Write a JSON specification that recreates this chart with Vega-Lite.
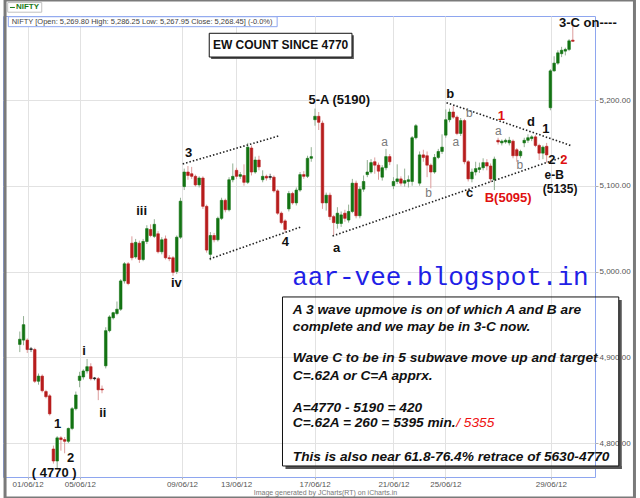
{
  "$schema": "https://vega.github.io/schema/vega-lite/v6.json",
  "width": 592,
  "height": 461,
  "autosize": {"type": "none"},
  "padding": {"left": 3, "top": 16, "right": 45, "bottom": 21},
  "background": "#ffffff",
  "config": {
    "view": {"stroke": "#8ea6ef", "strokeWidth": 1},
    "font": "Liberation Sans",
    "axis": {"labelFont": "Liberation Sans", "labelFontSize": 8, "labelColor": "#555555", "tickColor": "#b0b0b0", "domain": false, "gridColor": "#e2e2e2", "gridWidth": 1, "title": null}
  },
  "datasets": {
    "candles": [
      {"i":0,"o":4915,"h":4930,"l":4906,"c":4921},{"i":1,"o":4920,"h":4948,"l":4914,"c":4938},{"i":2,"o":4920,"h":4922,"l":4905,"c":4909},{"i":3,"o":4909.9,"h":4912,"l":4906,"c":4909},{"i":4,"o":4909,"h":4911,"l":4870,"c":4872},
      {"i":5,"o":4872,"h":4881,"l":4868,"c":4878},{"i":6,"o":4878,"h":4880,"l":4859,"c":4861},{"i":7,"o":4860,"h":4862,"l":4852,"c":4854},{"i":8,"o":4855,"h":4857,"l":4832,"c":4834},{"i":9,"o":4793,"h":4797,"l":4776,"c":4779},
      {"i":10,"o":4779,"h":4808,"l":4770,"c":4806},{"i":11,"o":4806,"h":4808,"l":4791,"c":4804},{"i":12,"o":4804,"h":4807,"l":4788,"c":4802},{"i":13,"o":4802,"h":4818,"l":4800,"c":4817},{"i":14,"o":4817,"h":4842,"l":4815,"c":4840},
      {"i":15,"o":4840,"h":4860,"l":4838,"c":4856},{"i":16,"o":4873,"h":4883,"l":4865,"c":4878},{"i":17,"o":4877,"h":4886,"l":4874,"c":4884},{"i":18,"o":4884,"h":4898,"l":4881,"c":4889},{"i":19,"o":4889,"h":4893,"l":4873,"c":4875},
      {"i":20,"o":4875.9,"h":4877,"l":4873,"c":4875},{"i":21,"o":4875,"h":4877,"l":4850,"c":4862},{"i":22,"o":4863,"h":4867,"l":4858,"c":4862},{"i":23,"o":4890,"h":4935,"l":4887,"c":4931},{"i":24,"o":4931,"h":4949,"l":4929,"c":4947},
      {"i":25,"o":4946,"h":4953,"l":4944,"c":4952},{"i":26,"o":4951,"h":4965,"l":4949,"c":4956},{"i":27,"o":4956,"h":4991,"l":4954,"c":4989},{"i":28,"o":4989,"h":5011,"l":4986,"c":5009},{"i":29,"o":5009,"h":5011,"l":4984,"c":4986},
      {"i":30,"o":5033,"h":5041,"l":5013,"c":5016},{"i":31,"o":5017,"h":5038,"l":5015,"c":5034},{"i":32,"o":5033,"h":5036,"l":5010,"c":5014},{"i":33,"o":5014,"h":5038,"l":5012,"c":5035},{"i":34,"o":5035,"h":5054,"l":5032,"c":5050},
      {"i":35,"o":5049,"h":5055,"l":5040,"c":5042},{"i":36,"o":5041,"h":5061,"l":5039,"c":5055},{"i":37,"o":5044,"h":5047,"l":5021,"c":5023},{"i":38,"o":5023,"h":5040,"l":5020,"c":5037},{"i":39,"o":5038,"h":5042,"l":5014,"c":5016},
      {"i":40,"o":5016,"h":5019,"l":5012,"c":5015},{"i":41,"o":5016,"h":5018,"l":4995,"c":4999},{"i":42,"o":5000,"h":5042,"l":4997,"c":5040},{"i":43,"o":5040,"h":5086,"l":5038,"c":5082},{"i":44,"o":5099,"h":5120,"l":5095,"c":5116},
      {"i":45,"o":5116,"h":5123,"l":5107,"c":5112},{"i":46,"o":5114,"h":5122,"l":5108,"c":5111},{"i":47,"o":5111,"h":5113,"l":5099,"c":5101},{"i":48,"o":5101,"h":5111,"l":5098,"c":5109},{"i":49,"o":5109,"h":5111,"l":5073,"c":5076},
      {"i":50,"o":5076,"h":5078,"l":5022,"c":5025},{"i":51,"o":5020,"h":5046,"l":5013,"c":5042},{"i":52,"o":5042,"h":5045,"l":5034,"c":5037},{"i":53,"o":5037,"h":5064,"l":5035,"c":5062},{"i":54,"o":5062,"h":5086,"l":5060,"c":5083},
      {"i":55,"o":5083,"h":5085,"l":5069,"c":5072},{"i":56,"o":5072,"h":5110,"l":5070,"c":5107},{"i":57,"o":5107,"h":5126,"l":5104,"c":5111},{"i":58,"o":5118,"h":5121,"l":5108,"c":5111},{"i":59,"o":5111,"h":5116,"l":5108,"c":5113},
      {"i":60,"o":5112,"h":5125,"l":5100,"c":5104},{"i":61,"o":5104,"h":5150,"l":5102,"c":5145},{"i":62,"o":5144,"h":5147,"l":5112,"c":5116},{"i":63,"o":5116,"h":5134,"l":5114,"c":5130},{"i":64,"o":5130,"h":5135,"l":5118,"c":5122},
      {"i":65,"o":5107,"h":5118,"l":5104,"c":5111},{"i":66,"o":5111,"h":5113,"l":5106,"c":5109},{"i":67,"o":5110.7,"h":5114,"l":5107,"c":5109.8},{"i":68,"o":5110,"h":5112,"l":5092,"c":5094},{"i":69,"o":5094,"h":5096,"l":5066,"c":5068},
      {"i":70,"o":5068,"h":5070,"l":5055,"c":5057},{"i":71,"o":5059,"h":5061,"l":5045,"c":5049},{"i":72,"o":5073,"h":5094,"l":5070,"c":5091},{"i":73,"o":5091,"h":5093,"l":5078,"c":5080},{"i":74,"o":5080,"h":5098,"l":5077,"c":5095},
      {"i":75,"o":5095,"h":5116,"l":5093,"c":5113},{"i":76,"o":5113,"h":5117,"l":5108,"c":5111},{"i":77,"o":5111,"h":5135,"l":5109,"c":5132},{"i":78,"o":5132,"h":5145,"l":5128,"c":5134},{"i":79,"o":5177,"h":5190,"l":5170,"c":5181},
      {"i":80,"o":5181,"h":5186,"l":5165,"c":5174},{"i":81,"o":5173,"h":5176,"l":5073,"c":5080},{"i":82,"o":5080,"h":5092,"l":5071,"c":5089},{"i":83,"o":5089,"h":5092,"l":5060,"c":5064},{"i":84,"o":5064,"h":5066,"l":5042,"c":5057},
      {"i":85,"o":5056,"h":5075,"l":5050,"c":5068},{"i":86,"o":5056,"h":5070,"l":5052,"c":5066},{"i":87,"o":5068,"h":5072,"l":5058,"c":5062},{"i":88,"o":5060,"h":5078,"l":5057,"c":5070},{"i":89,"o":5070,"h":5108,"l":5068,"c":5103},
      {"i":90,"o":5103,"h":5106,"l":5062,"c":5065},{"i":91,"o":5065,"h":5099,"l":5062,"c":5096},{"i":92,"o":5096,"h":5112,"l":5093,"c":5105},{"i":93,"o":5113,"h":5130,"l":5110,"c":5116},{"i":94,"o":5116,"h":5131,"l":5114,"c":5127},
      {"i":95,"o":5128,"h":5133,"l":5114,"c":5124},{"i":96,"o":5124,"h":5127,"l":5107,"c":5117},{"i":97,"o":5110,"h":5124,"l":5106,"c":5121},{"i":98,"o":5121,"h":5143,"l":5118,"c":5134},{"i":99,"o":5134,"h":5137,"l":5124,"c":5128},
      {"i":100,"o":5100,"h":5110,"l":5096,"c":5105},{"i":101,"o":5105,"h":5125,"l":5102,"c":5108},{"i":102,"o":5108,"h":5111,"l":5100,"c":5103},{"i":103,"o":5103,"h":5120,"l":5099,"c":5106},{"i":104,"o":5105,"h":5112,"l":5098,"c":5107},
      {"i":105,"o":5105,"h":5158,"l":5100,"c":5156},{"i":106,"o":5156,"h":5172,"l":5154,"c":5170},{"i":107,"o":5103,"h":5140,"l":5100,"c":5136},{"i":108,"o":5136,"h":5142,"l":5128,"c":5133},{"i":109,"o":5135,"h":5140,"l":5110,"c":5124},
      {"i":110,"o":5124,"h":5126,"l":5097,"c":5116},{"i":111,"o":5116,"h":5137,"l":5114,"c":5133},{"i":112,"o":5133,"h":5143,"l":5131,"c":5140},{"i":113,"o":5140,"h":5160,"l":5137,"c":5145},{"i":114,"o":5159,"h":5189,"l":5156,"c":5177},
      {"i":115,"o":5177,"h":5190,"l":5174,"c":5186},{"i":116,"o":5186,"h":5193,"l":5178,"c":5180},{"i":117,"o":5180,"h":5182,"l":5159,"c":5161},{"i":118,"o":5161,"h":5179,"l":5158,"c":5176},{"i":119,"o":5176,"h":5178,"l":5125,"c":5128},
      {"i":120,"o":5128,"h":5130,"l":5105,"c":5108},{"i":121,"o":5108,"h":5120,"l":5104,"c":5116},{"i":122,"o":5116,"h":5128,"l":5112,"c":5120},{"i":123,"o":5119,"h":5127,"l":5115,"c":5121},{"i":124,"o":5121,"h":5132,"l":5118,"c":5127},
      {"i":125,"o":5127,"h":5131,"l":5118,"c":5123},{"i":126,"o":5123,"h":5126,"l":5104,"c":5108},{"i":127,"o":5107,"h":5134,"l":5095,"c":5131},{"i":128,"o":5153,"h":5156,"l":5148,"c":5151},{"i":129,"o":5150,"h":5154,"l":5147,"c":5152},
      {"i":130,"o":5151,"h":5155,"l":5149,"c":5153},{"i":131,"o":5150,"h":5157,"l":5147,"c":5153},{"i":132,"o":5152,"h":5154,"l":5132,"c":5135},{"i":133,"o":5142,"h":5144,"l":5128,"c":5135},{"i":134,"o":5135,"h":5142,"l":5132,"c":5140},
      {"i":135,"o":5150,"h":5156,"l":5145,"c":5153},{"i":136,"o":5153,"h":5160,"l":5150,"c":5156},{"i":137,"o":5155,"h":5159,"l":5152,"c":5157},{"i":138,"o":5157,"h":5159,"l":5145,"c":5147},{"i":139,"o":5147,"h":5149,"l":5130,"c":5138},
      {"i":140,"o":5138,"h":5147,"l":5131,"c":5145},{"i":141,"o":5146,"h":5150,"l":5127,"c":5136},{"i":142,"o":5191,"h":5236,"l":5188,"c":5234},{"i":143,"o":5234,"h":5251,"l":5233,"c":5243},{"i":144,"o":5243,"h":5258,"l":5241,"c":5255},
      {"i":145,"o":5254,"h":5262,"l":5250,"c":5258},{"i":146,"o":5257,"h":5261,"l":5252,"c":5259},{"i":147,"o":5259,"h":5271,"l":5257,"c":5269},{"i":148,"o":5269.8,"h":5286.25,"l":5267.95,"c":5268.45}
    ],
    "lines": [
      {"line":"upper channel","i":43.6,"v":5125.4},{"line":"upper channel","i":69.2,"v":5158.0},
      {"line":"lower channel","i":50.8,"v":5014.6},{"line":"lower channel","i":75.2,"v":5051.9},
      {"line":"a-c","i":83.7,"v":5041.4},{"line":"a-c","i":145.3,"v":5133.5},
      {"line":"b-d","i":114.2,"v":5196.9},{"line":"b-d","i":147.8,"v":5146.4}
    ],
    "waves": [
      {"i":45.2,"v":5138.5,"t":"3"},{"i":32.6,"v":5070.6,"t":"iii"},{"i":41.9,"v":4986.2,"t":"iv"},{"i":17.2,"v":4907,"t":"i"},
      {"i":22.2,"v":4835.4,"t":"ii"},{"i":10.1,"v":4822,"t":"1"},{"i":13.6,"v":4783,"t":"2"},{"i":9.2,"v":4764.5,"t":"( 4770 )"},
      {"i":71.1,"v":5034.8,"t":"4"},{"i":85.5,"v":5200,"t":"5-A (5190)"},{"i":84.8,"v":5027.8,"t":"a"},{"i":115.2,"v":5207,"t":"b"},
      {"i":120.4,"v":5091.2,"t":"c"},{"i":136.8,"v":5174.7,"t":"d"},{"i":140.8,"v":5165.8,"t":"1"},{"i":142.4,"v":5130,"t":"2"}
    ],
    "eb": [{"i":143,"v":5112,"t":"e-B"},{"i":144.6,"v":5096,"t":"(5135)"}],
    "top": [{"i":144.3,"v":5289.4,"t":"3-C on----"}],
    "subwaves": [
      {"i":97.6,"v":5150.6,"t":"a"},{"i":109.4,"v":5091.2,"t":"b"},{"i":116.7,"v":5151.4,"t":"a"},
      {"i":120.3,"v":5185.2,"t":"b"},{"i":128.1,"v":5164.2,"t":"a"},{"i":133.8,"v":5124.2,"t":"b"}
    ],
    "reds": [
      {"i":128.9,"v":5181.3,"t":"1"},{"i":145.6,"v":5130,"t":"2"},{"i":130.7,"v":5085.4,"t":"B(5095)"}
    ],
    "titlebox": [{"i":50.7,"i2":88.9,"v":5277.8,"v2":5250.1}],
    "titleshadow": [{"i":51.2,"i2":89.4,"v":5275.4,"v2":5247.8}],
    "title": [{"i":69.8,"v":5264.0,"t":"EW COUNT SINCE 4770"}],
    "notebox": [{"i":70.3,"i2":160.3,"v":4970.3,"v2":4773.2}],
    "noteshadow": [{"i":160.3,"i2":161.1,"v":4966.8,"v2":4769.7},{"i":71.1,"i2":161.1,"v":4773.2,"v2":4769.7}],
    "notes": [
      {"i":73.07,"v":4955.1,"t":"A 3 wave upmove is on of which A and B are"},
      {"i":73.07,"v":4935.6,"t":"complete and we may be in 3-C now."},
      {"i":73.07,"v":4899.1,"t":"Wave C to be in 5 subwave move up and target"},
      {"i":73.07,"v":4878.1,"t":"C=.62A or C=A apprx."},
      {"i":73.07,"v":4841.2,"t":"A=4770 - 5190 = 420"},
      {"i":73.07,"v":4822.9,"t":"C=.62A = 260 = 5395 min."},
      {"i":73.07,"v":4784.0,"t":"This is also near 61.8-76.4% retrace of 5630-4770"}
    ],
    "rednote": [{"i":116.8,"v":4822.9,"t":"/ 5355"}],
    "blog": [{"i":72.9,"v":4984.3,"t":"aar-vee.blogspot.in"}],
    "legendbox": [{"i":-3.24,"i2":5.87,"v":5313.6,"v2":5302.4}],
    "legendline": [{"i":-2.63,"i2":-1.32,"v":5307.9}],
    "legendtext": [{"i":-1.05,"v":5307.9,"t":"NIFTY"}],
    "infobox": [{"i":-3.08,"i2":68.87,"v":5297.1,"v2":5285.5}],
    "infotext": [{"i":-2.18,"v":5291.3,"t":"NIFTY [Open: 5,269.80  High: 5,286.25  Low: 5,267.95  Close: 5,268.45] (-0.0%)"}],
    "footer": [{"i":62.6,"v":4741.7,"t":"Image generated by JCharts(RT) on iCharts.in"}],
    "frame": [{"i":-3.95,"i2":164.5,"v":5316.6,"v2":4735.9}]
  },
  "encoding": {
    "x": {
      "field": "i", "type": "quantitative",
      "scale": {"domain": [-3.16, 152.6], "nice": false, "zero": false},
      "axis": {
        "values": [2.1, 16.05, 43.4, 57.9, 78.9, 100, 113.9, 142.1],
        "labelExpr": "datum.value < 5 ? '01/06/12' : datum.value < 20 ? '05/06/12' : datum.value < 50 ? '09/06/12' : datum.value < 70 ? '13/06/12' : datum.value < 90 ? '17/06/12' : datum.value < 105 ? '21/06/12' : datum.value < 120 ? '25/06/12' : '29/06/12'",
        "grid": true, "tickSize": 2, "labelPadding": 1, "title": null
      }
    },
    "y": {
      "field": "v", "type": "quantitative",
      "scale": {"domain": [4760.35, 5297.96], "nice": false, "zero": false},
      "axis": {"orient": "right", "values": [4800, 4900, 5000, 5100, 5200], "format": ",.2f", "grid": true, "tickSize": 3, "labelPadding": 1, "title": null}
    }
  },
  "layer": [
    {
      "data": {"name": "candles"},
      "mark": {"type": "rule", "strokeWidth": 1},
      "encoding": {
        "y": {"field": "l", "type": "quantitative", "scale": {"domain": [4760.35, 5297.96], "nice": false, "zero": false},
              "axis": {"orient": "right", "values": [4800, 4900, 5000, 5100, 5200], "format": ",.2f", "grid": true, "tickSize": 3, "labelPadding": 1, "title": null}},
        "y2": {"field": "h"},
        "color": {"condition": [{"test": "abs(datum.c - datum.o) < 1", "value": "#777777"}, {"test": "datum.c > datum.o", "value": "#93b093"}], "value": "#dc9c9c"}
      }
    },
    {
      "data": {"name": "candles"},
      "mark": {"type": "bar", "width": 2.6, "strokeWidth": 0.6},
      "encoding": {
        "y": {"field": "o", "type": "quantitative", "scale": {"domain": [4760.35, 5297.96], "nice": false, "zero": false},
              "axis": {"orient": "right", "values": [4800, 4900, 5000, 5100, 5200], "format": ",.2f", "grid": true, "tickSize": 3, "labelPadding": 1, "title": null}},
        "y2": {"field": "c"},
        "color": {"condition": [{"test": "abs(datum.c - datum.o) < 1", "value": "#111111"}, {"test": "datum.c > datum.o", "value": "#137313"}], "value": "#b71c1c"},
        "stroke": {"condition": [{"test": "abs(datum.c - datum.o) < 1", "value": "#111111"}, {"test": "datum.c > datum.o", "value": "#137313"}], "value": "#b71c1c"}
      }
    },
    {
      "data": {"name": "lines"},
      "mark": {"type": "line", "color": "#222222", "strokeWidth": 1.6, "strokeDash": [1.5, 2]},
      "encoding": {"detail": {"field": "line"}}
    },
    {
      "data": {"name": "waves"},
      "mark": {"type": "text", "font": "Liberation Sans", "fontSize": 13, "fontWeight": "bold", "color": "#111111", "baseline": "middle", "align": "center"},
      "encoding": {"text": {"field": "t"}}
    },
    {
      "data": {"name": "eb"},
      "mark": {"type": "text", "font": "Liberation Sans", "fontSize": 12, "fontWeight": "bold", "color": "#111111", "baseline": "middle", "align": "center"},
      "encoding": {"text": {"field": "t"}}
    },
    {
      "data": {"name": "top"},
      "mark": {"type": "text", "font": "Liberation Sans", "fontSize": 13, "fontWeight": "bold", "color": "#111111", "baseline": "middle", "align": "left"},
      "encoding": {"text": {"field": "t"}}
    },
    {
      "data": {"name": "subwaves"},
      "mark": {"type": "text", "font": "Liberation Sans", "fontSize": 12, "color": "#7a7a7a", "baseline": "middle", "align": "center"},
      "encoding": {"text": {"field": "t"}}
    },
    {
      "data": {"name": "reds"},
      "mark": {"type": "text", "font": "Liberation Sans", "fontSize": 13, "fontWeight": "bold", "color": "#e01010", "baseline": "middle", "align": "center"},
      "encoding": {"text": {"field": "t"}}
    },
    {
      "data": {"name": "blog"},
      "mark": {"type": "text", "font": "Liberation Mono", "fontSize": 26, "color": "#1f1fe6", "baseline": "alphabetic", "align": "left"},
      "encoding": {"text": {"field": "t"}}
    },
    {
      "data": {"name": "titleshadow"},
      "mark": {"type": "rect", "color": "#555555"},
      "encoding": {"x2": {"field": "i2"}, "y2": {"field": "v2"}}
    },
    {
      "data": {"name": "titlebox"},
      "mark": {"type": "rect", "fill": "#ffffff", "stroke": "#111111", "strokeWidth": 1},
      "encoding": {"x2": {"field": "i2"}, "y2": {"field": "v2"}}
    },
    {
      "data": {"name": "title"},
      "mark": {"type": "text", "font": "Liberation Sans", "fontSize": 12, "fontWeight": "bold", "color": "#111111", "baseline": "middle", "align": "center"},
      "encoding": {"text": {"field": "t"}}
    },
    {
      "data": {"name": "noteshadow"},
      "mark": {"type": "rect", "color": "#555555"},
      "encoding": {"x2": {"field": "i2"}, "y2": {"field": "v2"}}
    },
    {
      "data": {"name": "notebox"},
      "mark": {"type": "rect", "fill": null, "stroke": "#111111", "strokeWidth": 1},
      "encoding": {"x2": {"field": "i2"}, "y2": {"field": "v2"}}
    },
    {
      "data": {"name": "notes"},
      "mark": {"type": "text", "font": "Liberation Sans", "fontSize": 13.7, "fontWeight": "bold", "fontStyle": "italic", "color": "#111111", "baseline": "middle", "align": "left"},
      "encoding": {"text": {"field": "t"}}
    },
    {
      "data": {"name": "rednote"},
      "mark": {"type": "text", "font": "Liberation Sans", "fontSize": 13.7, "fontStyle": "italic", "color": "#ee1111", "baseline": "middle", "align": "left"},
      "encoding": {"text": {"field": "t"}}
    },
    {
      "data": {"name": "legendbox"},
      "mark": {"type": "rect", "fill": "#ffffff", "stroke": "#c0c0c0", "strokeWidth": 1},
      "encoding": {"x2": {"field": "i2"}, "y2": {"field": "v2"}}
    },
    {
      "data": {"name": "legendline"},
      "mark": {"type": "rule", "color": "#1a7a1a", "strokeWidth": 1},
      "encoding": {"x2": {"field": "i2"}}
    },
    {
      "data": {"name": "legendtext"},
      "mark": {"type": "text", "font": "Liberation Sans", "fontSize": 8, "fontWeight": "bold", "color": "#1a7a1a", "baseline": "middle", "align": "left"},
      "encoding": {"text": {"field": "t"}}
    },
    {
      "data": {"name": "infobox"},
      "mark": {"type": "rect", "fill": "#ffffff", "stroke": "#8ea6ef", "strokeWidth": 1},
      "encoding": {"x2": {"field": "i2"}, "y2": {"field": "v2"}}
    },
    {
      "data": {"name": "infotext"},
      "mark": {"type": "text", "font": "Liberation Sans", "fontSize": 7.5, "color": "#444444", "baseline": "middle", "align": "left"},
      "encoding": {"text": {"field": "t"}}
    },
    {
      "data": {"name": "footer"},
      "mark": {"type": "text", "font": "Liberation Sans", "fontSize": 7, "color": "#777777", "baseline": "middle", "align": "left"},
      "encoding": {"text": {"field": "t"}}
    },
    {
      "data": {"name": "frame"},
      "mark": {"type": "rect", "fill": null, "stroke": "#7a7a7a", "strokeWidth": 3},
      "encoding": {"x2": {"field": "i2"}, "y2": {"field": "v2"}}
    }
  ]
}
